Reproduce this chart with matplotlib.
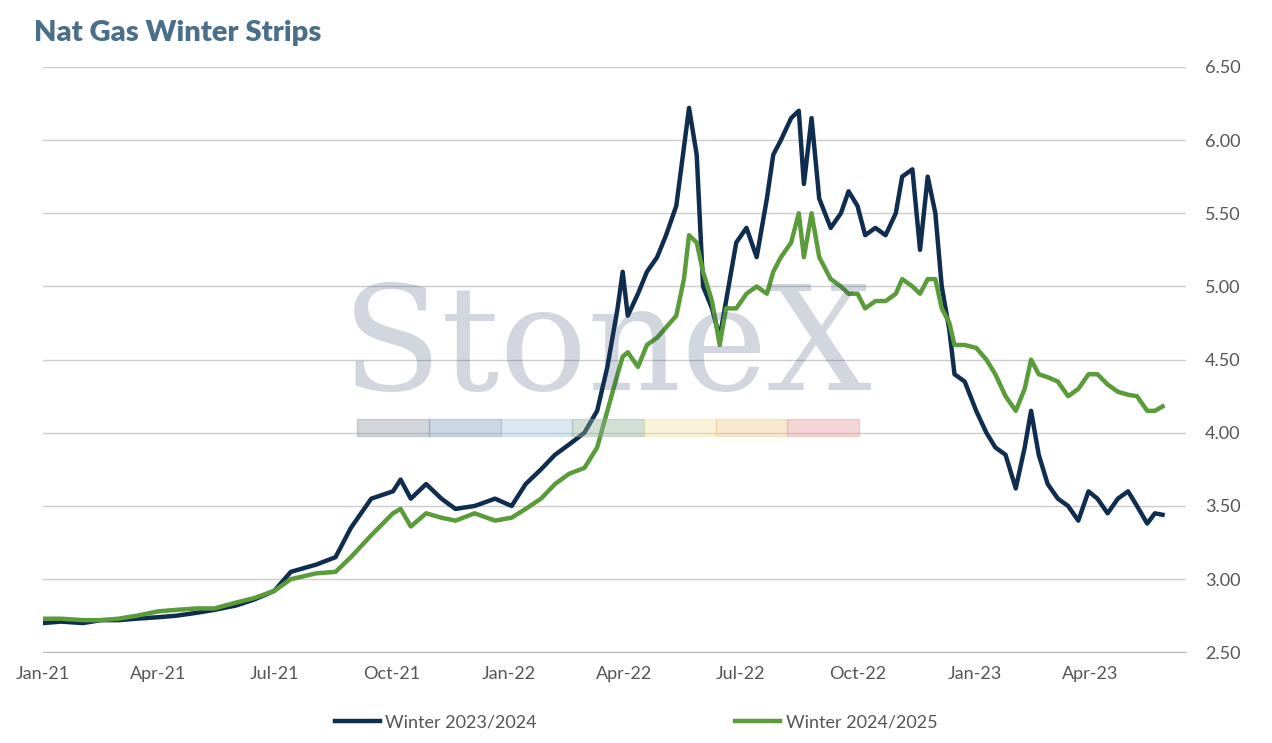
import matplotlib.pyplot as plt
import matplotlib.dates as mdates
import pandas as pd
from matplotlib.patches import Rectangle

plt.rcParams['font.family'] = ['Lato', 'DejaVu Sans']

dates = ["2021-01-01","2021-01-15","2021-02-01","2021-02-15","2021-03-01","2021-03-15","2021-04-01",
         "2021-04-15","2021-05-01","2021-05-15","2021-06-01","2021-06-15","2021-07-01",
         "2021-07-14","2021-08-03","2021-08-18","2021-08-30","2021-09-15","2021-10-02","2021-10-08",
         "2021-10-16","2021-10-28","2021-11-09","2021-11-20","2021-12-05","2021-12-21","2022-01-03",
         "2022-01-14","2022-01-26","2022-02-06","2022-02-17","2022-03-01","2022-03-11","2022-03-19",
         "2022-03-27","2022-03-31","2022-04-04","2022-04-12","2022-04-19","2022-04-27","2022-05-04",
         "2022-05-12","2022-05-18","2022-05-22","2022-05-28","2022-06-02","2022-06-09","2022-06-15",
         "2022-06-20","2022-06-28","2022-07-06","2022-07-14","2022-07-22","2022-07-27","2022-08-02",
         "2022-08-10","2022-08-16","2022-08-20","2022-08-26","2022-09-01","2022-09-10","2022-09-18",
         "2022-09-24","2022-10-01","2022-10-07","2022-10-15","2022-10-23","2022-10-31","2022-11-05",
         "2022-11-13","2022-11-19","2022-11-25","2022-12-01","2022-12-06","2022-12-12","2022-12-16",
         "2022-12-24","2023-01-02","2023-01-10","2023-01-17","2023-01-25","2023-02-02","2023-02-09",
         "2023-02-14","2023-02-20","2023-02-27","2023-03-07","2023-03-15","2023-03-23","2023-03-31",
         "2023-04-07","2023-04-15","2023-04-23","2023-05-01","2023-05-08","2023-05-16","2023-05-22",
         "2023-05-28"]

winter_2324 = [2.70,2.71,2.70,2.72,2.72,2.73,2.74,2.75,2.77,2.79,2.82,2.86,2.92,
               3.05,3.10,3.15,3.35,3.55,3.60,3.68,3.55,3.65,3.55,3.48,3.50,3.55,3.50,
               3.65,3.75,3.85,3.92,4.00,4.15,4.45,4.85,5.10,4.80,4.95,5.10,5.20,5.35,
               5.55,5.95,6.22,5.90,5.00,4.85,4.65,4.90,5.30,5.40,5.20,5.60,5.90,6.00,
               6.15,6.20,5.70,6.15,5.60,5.40,5.50,5.65,5.55,5.35,5.40,5.35,5.50,5.75,
               5.80,5.25,5.75,5.50,5.00,4.70,4.40,4.35,4.15,4.00,3.90,3.85,3.62,3.90,
               4.15,3.85,3.65,3.55,3.50,3.40,3.60,3.55,3.45,3.55,3.60,3.50,3.38,3.45,3.44]

winter_2425 = [2.73,2.73,2.72,2.72,2.73,2.75,2.78,2.79,2.80,2.80,2.84,2.87,2.92,
               3.00,3.04,3.05,3.15,3.30,3.45,3.48,3.36,3.45,3.42,3.40,3.45,3.40,3.42,
               3.48,3.55,3.65,3.72,3.76,3.90,4.15,4.40,4.52,4.55,4.45,4.60,4.65,4.72,
               4.80,5.05,5.35,5.30,5.10,4.90,4.60,4.85,4.85,4.95,5.00,4.95,5.10,5.20,
               5.30,5.50,5.20,5.50,5.20,5.05,5.00,4.95,4.95,4.85,4.90,4.90,4.95,5.05,
               5.00,4.95,5.05,5.05,4.85,4.75,4.60,4.60,4.58,4.50,4.40,4.25,4.15,4.30,
               4.50,4.40,4.38,4.35,4.25,4.30,4.40,4.40,4.33,4.28,4.26,4.25,4.15,4.15,4.18]

x = pd.to_datetime(dates)

fig = plt.figure(figsize=(12.72, 7.43), dpi=100)
ax = fig.add_axes([0.034, 0.122, 0.898, 0.788])

# watermark
fig.text(0.477, 0.53, "StoneX", fontsize=105, family='DejaVu Serif', color='#1f3b63',
         alpha=0.2, ha='center', va='center')
wm_colors = ['#8d99a6', '#7f9bbd', '#a9c7de', '#8fb39a', '#f0e3a0', '#f1c98c', '#e59a9a']
for i, c in enumerate(wm_colors):
    fig.patches.append(Rectangle((0.281 + i * 0.0563, 0.413), 0.0563, 0.023,
                                 transform=fig.transFigure, color=c, alpha=0.4))

ax.plot(x, winter_2324, color='#0f2d4f', lw=3.2, label='Winter 2023/2024', zorder=3)
ax.plot(x, winter_2425, color='#5a9b3a', lw=3.2, label='Winter 2024/2025', zorder=3)

ax.set_ylim(2.5, 6.5)
ax.set_xlim(pd.Timestamp("2021-01-01"), pd.Timestamp("2023-06-15"))
ax.set_yticks([2.5 + 0.5 * i for i in range(9)])
ax.yaxis.set_major_formatter(plt.FuncFormatter(lambda v, p: f"{v:.2f}"))
ax.yaxis.tick_right()
ax.xaxis.set_major_locator(mdates.MonthLocator(bymonth=[1, 4, 7, 10]))
ax.xaxis.set_major_formatter(mdates.DateFormatter('%b-%y'))
ax.grid(axis='y', color='#cccccc', lw=1)
for s in ['top', 'left', 'right']:
    ax.spines[s].set_visible(False)
ax.spines['bottom'].set_color('#bbbbbb')
ax.tick_params(axis='both', length=0, labelsize=13, colors='#555555', pad=10)
ax.tick_params(axis='y', pad=14)

fig.text(0.027, 0.955, "Nat Gas Winter Strips", fontsize=21, fontweight='heavy',
         color='#4a6f8a', va='center')
fig.legend(loc='lower center', ncol=2, frameon=False, fontsize=13, handlelength=2.5,
           handletextpad=0.3, columnspacing=11, bbox_to_anchor=(0.5, -0.005),
           labelcolor='#555555')

fig.savefig("out.png", dpi=100)
